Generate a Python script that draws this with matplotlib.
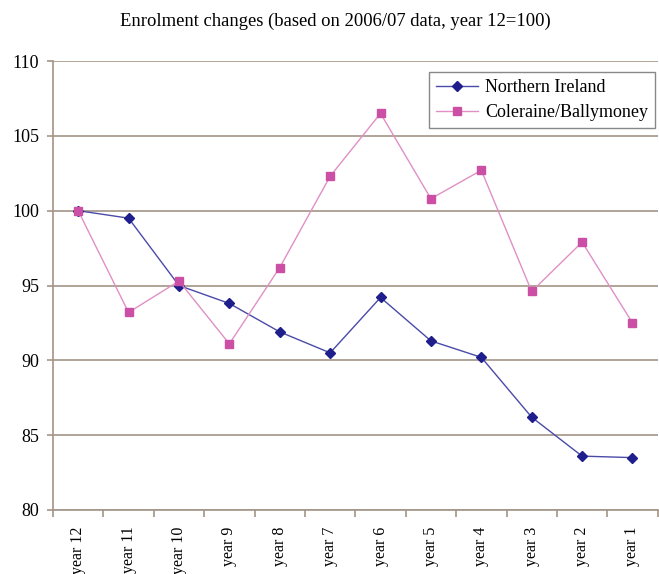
import numpy as np
import matplotlib.pyplot as plt
from matplotlib.ticker import FixedLocator

plt.rcParams['font.family'] = ['Liberation Serif', 'DejaVu Serif']

years = ["year 12", "year 11", "year 10", "year 9", "year 8", "year 7",
         "year 6", "year 5", "year 4", "year 3", "year 2", "year 1"]
northern_ireland = [100.0, 99.5, 95.0, 93.8, 91.9, 90.5,
                    94.2, 91.3, 90.2, 86.2, 83.6, 83.5]
coleraine = [100.0, 93.2, 95.3, 91.1, 96.2, 102.3,
             106.5, 100.8, 102.7, 94.6, 97.9, 92.5]

fig = plt.figure(figsize=(6.59, 5.74), dpi=100)
ax = fig.add_axes([0.0804, 0.1115, 0.9176, 0.7822])

x = np.arange(len(years))
grid_col = '#a39588'

ax.plot(x, northern_ireland, color='#4a4aa8', lw=1.0, marker='D',
        markersize=5.5, markerfacecolor='#1e1e8c', markeredgecolor='#1e1e8c',
        label='Northern Ireland', zorder=3)
ax.plot(x, coleraine, color='#e090c4', lw=1.0, marker='s',
        markersize=5.5, markerfacecolor='#cc4fa6', markeredgecolor='#cc4fa6',
        label='Coleraine/Ballymoney', zorder=3)

ax.set_xlim(-0.5, len(years) - 0.5)
ax.set_ylim(80, 110)
ax.set_yticks(np.arange(80, 111, 5))
ax.yaxis.grid(True, color=grid_col, lw=1.2)
ax.set_axisbelow(True)

ax.set_xticks(x)
ax.set_xticklabels(years, rotation=90, fontsize=11.5)
ax.xaxis.set_minor_locator(FixedLocator(np.arange(-0.5, len(years), 1.0)))
ax.tick_params(axis='x', which='major', length=0, pad=12)
ax.tick_params(axis='x', which='minor', length=5, color=grid_col, width=1.2)
ax.tick_params(axis='y', length=4, color=grid_col, width=1.2, labelsize=13, pad=6)

for s in ['top', 'right']:
    ax.spines[s].set_visible(False)
for s in ['left', 'bottom']:
    ax.spines[s].set_color(grid_col)
    ax.spines[s].set_linewidth(1.2)

# legend box sits just under the top gridline, flush with the right edge
leg = ax.legend(loc='upper right', bbox_to_anchor=(0.996, 0.976), fontsize=13,
                frameon=True, fancybox=False, edgecolor='#888888',
                framealpha=1, handlelength=2.3, borderpad=0.4, labelspacing=0.45,
                handletextpad=0.4, borderaxespad=0)
leg.get_frame().set_linewidth(1.0)

fig.text(0.509, 0.962, "Enrolment changes (based on 2006/07 data, year 12=100)",
         ha='center', va='center', fontsize=13.4)

fig.savefig('out.png', dpi=100)
